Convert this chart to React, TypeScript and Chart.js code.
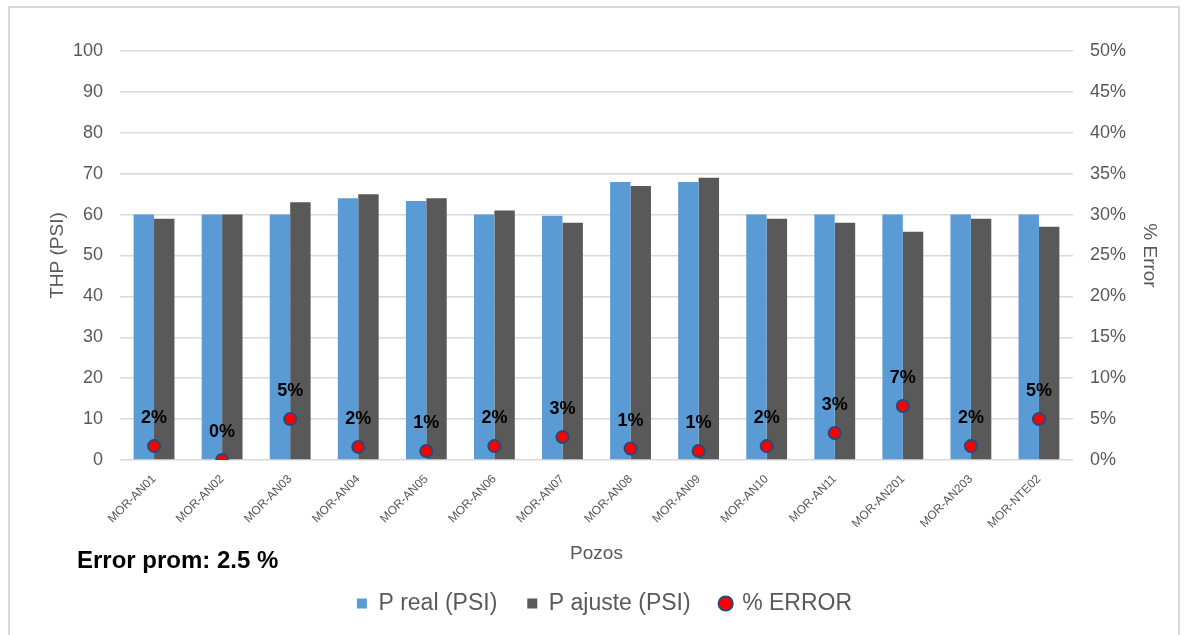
import React, { useEffect, useRef } from "react";
import { Chart, registerables } from "chart.js";

Chart.register(...registerables);

const categories = [
  "MOR-AN01", "MOR-AN02", "MOR-AN03", "MOR-AN04", "MOR-AN05", "MOR-AN06", "MOR-AN07",
  "MOR-AN08", "MOR-AN09", "MOR-AN10", "MOR-AN11", "MOR-AN201", "MOR-AN203", "MOR-NTE02",
];
const pReal = [60, 60, 60, 64, 63.3, 60, 59.7, 68, 68, 60, 60, 60, 60, 60];
const pAjuste = [59, 60, 63, 65, 64, 61, 58, 67, 69, 59, 58, 55.8, 59, 57];
const errorPct = [1.7, 0, 5.0, 1.6, 1.1, 1.7, 2.8, 1.4, 1.1, 1.7, 3.3, 6.6, 1.7, 5.0];
const leftTicksMax = 100;
const rightTicksMax = 50;
const averageErrorText = "Error prom: 2.5 %";

const FONT = "'Liberation Sans', Arial, sans-serif";
const GRAY = "#595959";

const pointLabelPlugin = {
  id: "pointLabels",
  afterDatasetsDraw(chart: any) {
    const meta = chart.getDatasetMeta(2);
    const ctx = chart.ctx;
    ctx.save();
    ctx.font = `bold 18px ${FONT}`;
    ctx.fillStyle = "#000000";
    ctx.textAlign = "center";
    ctx.textBaseline = "middle";
    meta.data.forEach((el: any, i: number) => {
      ctx.fillText(Math.round(errorPct[i]) + "%", el.x, el.y - 28);
    });
    ctx.restore();
  },
};

const noteTextPlugin = {
  id: "noteText",
  afterDraw(chart: any) {
    const ctx = chart.ctx;
    ctx.save();
    ctx.font = `bold 24px ${FONT}`;
    ctx.fillStyle = "#000000";
    ctx.textAlign = "left";
    ctx.textBaseline = "middle";
    ctx.fillText(averageErrorText, 77, 561);
    ctx.restore();
  },
};

export default function App() {
  const canvasRef = useRef<HTMLCanvasElement | null>(null);

  useEffect(() => {
    if (!canvasRef.current) return;
    Chart.defaults.font.family = FONT;
    const chart = new Chart(canvasRef.current, {
      type: "bar",
      data: {
        labels: categories,
        datasets: [
          {
            type: "bar",
            label: "P real (PSI)",
            data: pReal,
            backgroundColor: "#5B9BD5",
            yAxisID: "y",
            order: 2,
            pointStyle: "rect",
            categoryPercentage: 0.6,
            barPercentage: 1,
          } as any,
          {
            type: "bar",
            label: "P ajuste (PSI)",
            data: pAjuste,
            backgroundColor: "#595959",
            yAxisID: "y",
            order: 2,
            pointStyle: "rect",
            categoryPercentage: 0.6,
            barPercentage: 1,
          } as any,
          {
            type: "line",
            label: "% ERROR",
            data: errorPct,
            yAxisID: "y1",
            showLine: false,
            pointStyle: "circle",
            pointRadius: 6,
            pointBorderWidth: 2,
            pointBackgroundColor: "#FF0000",
            pointBorderColor: "#264A78",
            backgroundColor: "#FF0000",
            borderColor: "#264A78",
            borderWidth: 2,
            order: 0,
          } as any,
        ],
      },
      options: {
        responsive: false,
        animation: false,
        layout: { padding: { top: 51, left: 20, right: 0, bottom: 10 } },
        plugins: {
          legend: {
            position: "bottom",
            labels: {
              usePointStyle: true,
              boxWidth: 10,
              boxHeight: 10,
              padding: 30,
              color: GRAY,
              font: { size: 23, family: FONT },
              sort: (a: any, b: any) => a.datasetIndex - b.datasetIndex,
            },
          },
          tooltip: { enabled: false },
        },
        scales: {
          x: {
            grid: { display: false },
            border: { display: false },
            ticks: {
              minRotation: 45,
              maxRotation: 45,
              color: GRAY,
              padding: 4,
              font: { size: 12, family: FONT },
            },
            title: {
              display: true,
              text: "Pozos",
              color: GRAY,
              font: { size: 19, family: FONT },
              padding: { top: 0, bottom: -3 },
            },
            afterFit: (s: any) => {
              s.height = 102;
            },
          },
          y: {
            position: "left",
            min: 0,
            max: leftTicksMax,
            ticks: {
              stepSize: 10,
              color: GRAY,
              padding: 17,
              font: { size: 18, family: FONT },
            },
            grid: { color: "#d9d9d9", lineWidth: 1.5, drawTicks: false },
            border: { display: false },
            title: {
              display: true,
              text: "THP (PSI)",
              color: GRAY,
              font: { size: 19, family: FONT },
              padding: { top: 26, bottom: 0 },
            },
            afterFit: (s: any) => {
              s.width = 100;
            },
          },
          y1: {
            position: "right",
            min: 0,
            max: rightTicksMax,
            ticks: {
              stepSize: 5,
              color: GRAY,
              padding: 17,
              font: { size: 18, family: FONT },
              callback: (v: any) => v + "%",
            },
            grid: { drawOnChartArea: false, drawTicks: false },
            border: { display: false },
            title: {
              display: true,
              text: "% Error",
              color: GRAY,
              font: { size: 19, family: FONT },
              padding: { top: 28, bottom: 0 },
            },
            afterFit: (s: any) => {
              s.width = 116;
            },
          },
        },
      } as any,
      plugins: [pointLabelPlugin, noteTextPlugin],
    });
    return () => chart.destroy();
  }, []);

  return (
    <div
      style={{
        position: "fixed",
        left: 0,
        top: 0,
        width: 1189,
        height: 635,
        overflow: "hidden",
        background: "#ffffff",
      }}
    >
      <div
        style={{
          position: "absolute",
          left: 8,
          top: 6,
          width: 1172,
          height: 700,
          border: "2px solid #d9d9d9",
          boxSizing: "border-box",
        }}
      />
      <canvas
        ref={canvasRef}
        width={1189}
        height={635}
        style={{ position: "absolute", left: 0, top: 0, width: 1189, height: 635 }}
      />
    </div>
  );
}
